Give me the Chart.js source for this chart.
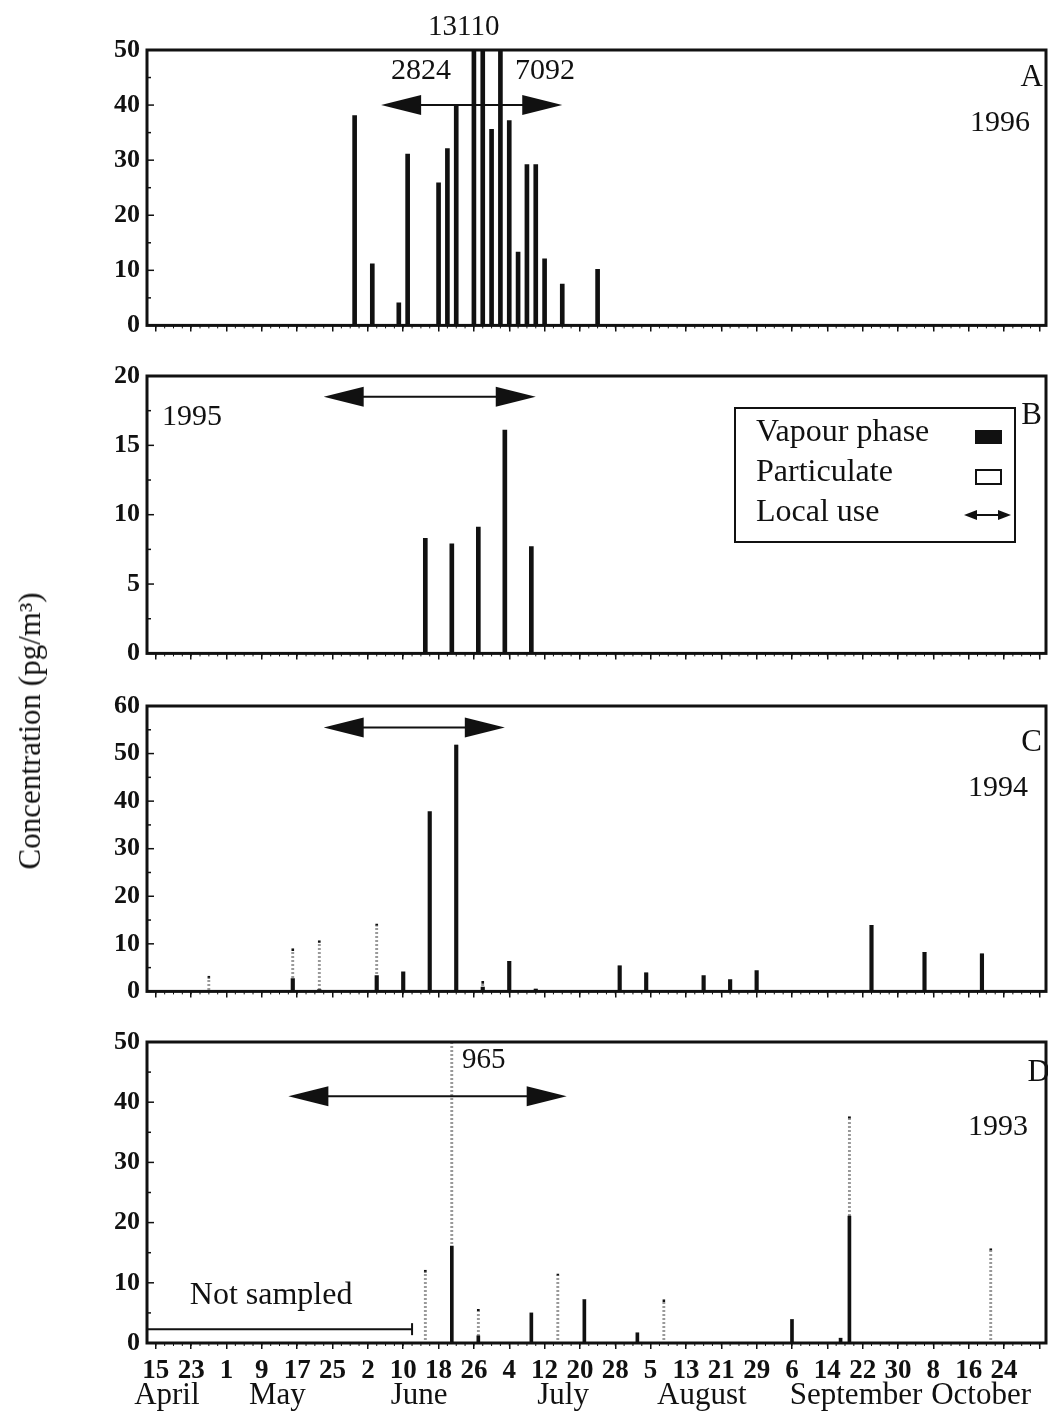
<!DOCTYPE html>
<html>
<head>
<meta charset="utf-8">
<script src="https://cdn.jsdelivr.net/npm/chart.js@4.4.1/dist/chart.umd.min.js"></script>
<style>
  body { margin: 0; background: #fff; }
  #wrap { position: relative; width: 1048px; height: 1412px; overflow: hidden; background: #fff; }
  canvas { position: absolute; left: 0; }
  #ytitle {
    position: absolute; left: 30px; top: 731px;
    transform: translate(-50%, -50%) rotate(-90deg);
    font: 31px "Liberation Serif", serif; color: #111; white-space: nowrap;
  }
</style>
</head>
<body>
<div id="wrap">
  <canvas id="panelA"></canvas>
  <canvas id="panelB"></canvas>
  <canvas id="panelC"></canvas>
  <canvas id="panelD"></canvas>
  <div id="ytitle">Concentration (pg/m³)</div>
</div>
<script>
// x values are days counted from 15 April
const tickDays = [0, 8, 16, 24, 32, 40, 48, 56, 64, 72, 80, 88, 96, 104, 112, 120, 128, 136, 144, 152, 160, 168, 176, 184, 192, 200];
const tickLabels = ['15', '23', '1', '9', '17', '25', '2', '10', '18', '26', '4', '12', '20', '28', '5', '13', '21', '29', '6', '14', '22', '30', '8', '16', '24', ''];
const months = ['April', 'May', 'June', 'July', 'August', 'September', 'October'];
const monthDays = [2.5, 27.5, 59.6, 92.2, 123.6, 158.5, 186.8];

// 1996
const datesA = ['05-30', '06-03', '06-09', '06-11', '06-18', '06-20', '06-22', '06-26', '06-28', '06-30', '07-02', '07-04', '07-06', '07-08', '07-10', '07-12', '07-16', '07-24'];
const vapourA = [38.1, 11.2, 4.1, 31.1, 25.9, 32.1, 40.0, 2824, 13110, 35.6, 7092, 37.2, 13.3, 29.2, 29.2, 12.1, 7.5, 10.2];
const localUseA = ['06-05', '07-16', 40];

// 1995
const datesB = ['06-15', '06-21', '06-27', '07-03', '07-09'];
const vapourB = [8.3, 7.9, 9.1, 16.1, 7.7];
const localUseB = ['05-23', '07-10', 18.5];

// 1994
const datesC = ['04-27', '05-16', '05-22', '06-04', '06-10', '06-16', '06-22', '06-28', '07-04', '07-10', '07-29', '08-04', '08-17', '08-23', '08-29', '09-24', '10-06', '10-19'];
const vapourC = [0, 2.7, 0.4, 3.3, 4.1, 37.8, 51.8, 0.9, 6.3, 0.5, 5.4, 3.9, 3.3, 2.5, 4.4, 13.9, 8.2, 7.9];
const particulateC = [3.2, 6.3, 10.3, 10.9, 0, 0, 0, 1.2, 0, 0, 0, 0, 0, 0, 0, 0, 0, 0];
const localUseC = ['05-23', '07-03', 55.5];

// 1993
const datesD = ['06-15', '06-21', '06-27', '07-09', '07-15', '07-21', '08-02', '08-08', '09-06', '09-17', '09-19', '10-21'];
const vapourD = [0, 16.1, 1.2, 5.0, 0, 7.2, 1.7, 0, 3.9, 0.8, 21.1, 0];
const particulateD = [12.1, 965, 4.4, 0, 11.5, 0, 0, 7.2, 0, 0, 16.5, 15.7];
const localUseD = ['05-15', '07-17', 41];
const notSampledD = ['04-13', '06-12', 2.3];

const legendLabels = ['Vapour phase', 'Particulate', 'Local use'];

const ink = '#111';
const serif = '"Liberation Serif", "Times New Roman", serif';
const xMin = -2, xMax = 201.5;

function day(s) {
  const [m, d] = s.split('-').map(Number);
  return (Date.UTC(2000, m - 1, d) - Date.UTC(2000, 3, 15)) / 864e5;
}

function dottedFill(ctx) {
  const c = document.createElement('canvas');
  c.width = 4; c.height = 4;
  const g = c.getContext('2d');
  g.fillStyle = '#999';
  g.fillRect(0, 0, 4, 2);
  return ctx.createPattern(c, 'repeat');
}

function arrow(ctx, x1, x2, yy, head, half, lw) {
  ctx.lineWidth = lw;
  ctx.beginPath(); ctx.moveTo(x1 + head - 2, yy); ctx.lineTo(x2 - head + 2, yy); ctx.stroke();
  ctx.beginPath(); ctx.moveTo(x1, yy); ctx.lineTo(x1 + head, yy - half); ctx.lineTo(x1 + head, yy + half); ctx.closePath(); ctx.fill();
  ctx.beginPath(); ctx.moveTo(x2, yy); ctx.lineTo(x2 - head, yy - half); ctx.lineTo(x2 - head, yy + half); ctx.closePath(); ctx.fill();
}

const decor = {
  id: 'decor',
  afterDraw(chart, args, o) {
    const {ctx, chartArea: a, scales: {x, y}} = chart;
    ctx.save();
    ctx.strokeStyle = ink; ctx.fillStyle = ink;

    // y ticks pointing inward
    ctx.lineWidth = 1.5;
    for (let v = 0; v <= y.max + 1e-6; v += o.minorStep) {
      const py = y.getPixelForValue(v);
      const major = Math.abs(v / o.majorStep - Math.round(v / o.majorStep)) < 1e-6;
      ctx.beginPath(); ctx.moveTo(a.left, py); ctx.lineTo(a.left + (major ? 7 : 4), py); ctx.stroke();
    }
    // minor x ticks
    ctx.lineWidth = 1;
    for (let d = 0; d <= x.max; d += 2) {
      const px = x.getPixelForValue(d);
      ctx.beginPath(); ctx.moveTo(px, a.bottom); ctx.lineTo(px, a.bottom + 3); ctx.stroke();
    }

    // frame
    ctx.lineWidth = 3;
    ctx.strokeRect(a.left, a.top, a.width, a.height);

    // local use arrow
    if (o.localUse) {
      const [d1, d2, lvl] = o.localUse;
      arrow(ctx, x.getPixelForValue(day(d1)), x.getPixelForValue(day(d2)), y.getPixelForValue(lvl), 40, 10, 2);
    }

    // not sampled bracket
    if (o.notSampled) {
      const [d1, d2, lvl] = o.notSampled;
      const x1 = Math.max(a.left, x.getPixelForValue(day(d1))), x2 = x.getPixelForValue(day(d2));
      const py = y.getPixelForValue(lvl);
      ctx.lineWidth = 2;
      ctx.beginPath(); ctx.moveTo(x1, py); ctx.lineTo(x2, py); ctx.stroke();
      ctx.beginPath(); ctx.moveTo(x2, py - 6); ctx.lineTo(x2, py + 6); ctx.stroke();
    }

    // value notes in data units
    ctx.textBaseline = 'middle';
    (o.notes || []).forEach(([t, d, v, al, size]) => {
      ctx.font = size + 'px ' + serif;
      ctx.textAlign = al;
      ctx.fillText(t, x.getPixelForValue(d), y.getPixelForValue(v));
    });

    // panel letter and year
    (o.tags || []).forEach(([t, dx, dy, al, size]) => {
      ctx.font = size + 'px ' + serif;
      ctx.textAlign = al;
      ctx.fillText(t, (al === 'right' ? a.right : a.left) + dx, a.top + dy);
    });

    // legend box
    if (o.legend) {
      const bx = a.right - 311, by = a.top + 32;
      ctx.lineWidth = 2;
      ctx.strokeRect(bx, by, 280, 134);
      ctx.font = '32px ' + serif;
      ctx.textAlign = 'left';
      legendLabels.forEach((t, i) => ctx.fillText(t, bx + 21, by + 25 + i * 40));
      ctx.fillRect(bx + 240, by + 22, 27, 14);
      ctx.lineWidth = 2;
      ctx.strokeRect(bx + 241, by + 62, 25, 14);
      arrow(ctx, bx + 229, bx + 276, by + 107, 13, 5, 2);
    }

    // month names under the last axis
    if (o.months) {
      ctx.font = '31px ' + serif;
      ctx.textAlign = 'center';
      ctx.textBaseline = 'alphabetic';
      months.forEach((m, i) => ctx.fillText(m, x.getPixelForValue(monthDays[i]), a.bottom + 61));
    }
    ctx.restore();
  }
};

function makePanel(cfg) {
  const canvas = document.getElementById(cfg.id);
  canvas.width = 1048; canvas.height = cfg.height;
  canvas.style.top = cfg.top + 'px';
  const ctx = canvas.getContext('2d');
  const datasets = [{
    label: 'Vapour phase',
    data: cfg.dates.map((d, i) => ({x: day(d), y: cfg.vapour[i]})),
    backgroundColor: ink, barThickness: cfg.barW, clip: 0
  }];
  if (cfg.particulate) {
    datasets.push({
      label: 'Particulate',
      data: cfg.dates.map((d, i) => ({x: day(d), y: cfg.particulate[i]})),
      backgroundColor: dottedFill(ctx), barThickness: 3, clip: 0,
      borderColor: ink, borderWidth: {top: 2, left: 0, right: 0, bottom: 0}, borderSkipped: 'bottom'
    });
  }
  return new Chart(ctx, {
    type: 'bar',
    data: {datasets},
    options: {
      responsive: false,
      animation: false,
      layout: {padding: {top: cfg.padTop, right: 2, left: 0, bottom: 0}},
      plugins: {legend: {display: false}, tooltip: {enabled: false}, decor: cfg.decor},
      scales: {
        x: {
          type: 'linear', min: xMin, max: xMax, stacked: true, offset: false,
          afterBuildTicks: s => { s.ticks = tickDays.map(v => ({value: v})); },
          afterFit: s => { s.height = cfg.axisH; },
          grid: {drawOnChartArea: false, drawTicks: true, tickLength: 6, color: ink, lineWidth: 1.5, offset: false},
          border: {display: false},
          ticks: {
            display: !!cfg.showLabels, autoSkip: false, maxRotation: 0, minRotation: 0, padding: 6, color: ink,
            font: {family: serif, size: 27, weight: 'bold'},
            callback: (v, i) => tickLabels[i]
          }
        },
        y: {
          stacked: true, min: 0, max: cfg.yMax,
          afterFit: s => { s.width = 147; },
          grid: {display: false, drawTicks: false},
          border: {display: false},
          ticks: {stepSize: cfg.step, padding: 7, color: ink, font: {family: serif, size: 26, weight: 'bold'}}
        }
      }
    },
    plugins: [decor]
  });
}

makePanel({
  id: 'panelA', top: 0, height: 348, padTop: 50, axisH: 8, yMax: 50, step: 10, barW: 4,
  dates: datesA, vapour: vapourA,
  decor: {
    minorStep: 5, majorStep: 10, localUse: localUseA,
    notes: [['13110', 69.7, 54.1, 'center', 29], ['2824', 60.0, 46.2, 'center', 30], ['7092', 88.1, 46.2, 'center', 30]],
    tags: [['A', -3, 28, 'right', 31], ['1996', -16, 73, 'right', 30]]
  }
});

makePanel({
  id: 'panelB', top: 348, height: 328, padTop: 28, axisH: 8, yMax: 20, step: 5, barW: 4,
  dates: datesB, vapour: vapourB,
  decor: {
    minorStep: 2.5, majorStep: 5, localUse: localUseB, legend: true,
    tags: [['B', -4, 40, 'right', 31], ['1995', 15, 41, 'left', 30]]
  }
});

makePanel({
  id: 'panelC', top: 676, height: 338, padTop: 30, axisH: 8, yMax: 60, step: 10, barW: 3.5,
  dates: datesC, vapour: vapourC, particulate: particulateC,
  decor: {
    minorStep: 5, majorStep: 10, localUse: localUseC,
    tags: [['C', -4, 37, 'right', 31], ['1994', -18, 82, 'right', 30]]
  }
});

makePanel({
  id: 'panelD', top: 1014, height: 398, padTop: 28, axisH: 69, yMax: 50, step: 10, barW: 3,
  dates: datesD, vapour: vapourD, particulate: particulateD, showLabels: true,
  decor: {
    minorStep: 5, majorStep: 10, localUse: localUseD, notSampled: notSampledD, months: true,
    notes: [['965', 69.3, 47.0, 'left', 29], ['Not sampled', 26.1, 7.8, 'center', 32]],
    tags: [['D', 4, 31, 'right', 31], ['1993', -18, 85, 'right', 30]]
  }
});
</script>
</body>
</html>
